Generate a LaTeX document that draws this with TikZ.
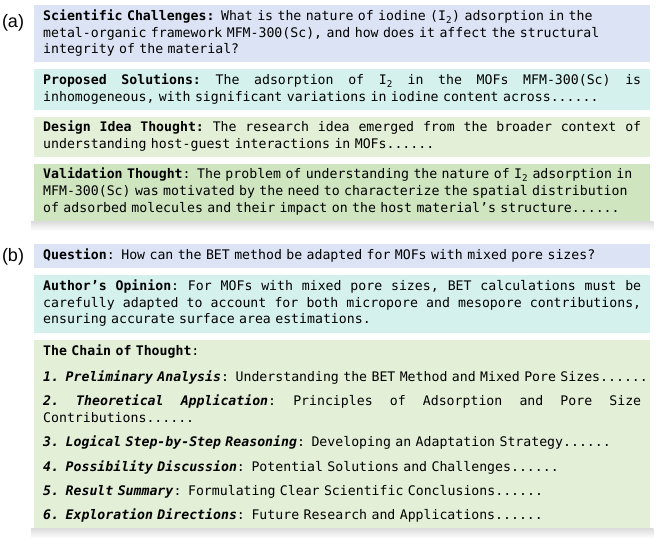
\documentclass[tikz,border=0pt]{standalone}
\usepackage{fontspec}
\setmonofont{DejaVu Sans Mono}
\newfontfamily\panelfont{Liberation Sans}
\usepackage{tikz}
\usetikzlibrary{positioning,calc}
\definecolor{qblue}{HTML}{DCE3F4}
\definecolor{qcyan}{HTML}{D4F1EE}
\definecolor{qlgreen}{HTML}{E3EFD7}
\definecolor{qgreen}{HTML}{CEE5C0}
\newlength{\boxtw}\setlength{\boxtw}{598pt}
% justified line: spaces stretch to the full text width
\newcommand{\jline}[1]{\makebox[\boxtw][s]{\spaceskip=\fontdimen2\font plus 1fil\relax
  \xspaceskip=\spaceskip#1}}
\newcommand{\cotitem}[2]{\textbf{\textit{#1}}: #2}
\tikzstyle{textbox}=[inner xsep=9pt,inner ysep=3.5pt,text width=\boxtw,align=left,
  font=\ttfamily\fontsize{13.2}{16.7}\selectfont,
  execute at begin node=\strut,execute at end node=\strut]
\tikzstyle{panel}=[font=\panelfont\fontsize{18}{20}\selectfont,inner sep=0pt]

\begin{document}
\begin{tikzpicture}[x=1pt,y=1pt]
\useasboundingbox (0,0) rectangle (661,-544);
% (a) the four boxes
\node (challenge) [textbox,fill=qblue,anchor=north west] at (34,-5)
  {\mbox{\textbf{Scientific Challenges:} What is the nature of iodine (I\textsubscript{2}) adsorption in the}\\
   \mbox{metal-organic framework MFM-300(Sc), and how does it affect the structural}\\
   integrity of the material?};
\node (solution) [textbox,fill=qcyan,below=6.5pt of challenge]
  {\jline{\textbf{Proposed Solutions:} The adsorption of I\textsubscript{2} in the MOFs MFM-300(Sc) is}\\
   \mbox{inhomogeneous, with significant variations in iodine content across......}};
\node (design) [textbox,fill=qlgreen,below=6.5pt of solution]
  {\jline{\textbf{Design Idea Thought:} The research idea emerged from the broader context of}\\
   understanding host-guest interactions in MOFs......};
\node (validation) [textbox,fill=qgreen,below=6.5pt of design]
  {\mbox{\textbf{Validation Thought}: The problem of understanding the nature of I\textsubscript{2} adsorption in}\\
   \mbox{MFM-300(Sc) was motivated by the need to characterize the spatial distribution}\\
   \mbox{of adsorbed molecules and their impact on the host material’s structure......}};
\shade[top color=black!14,bottom color=white] ($(validation.south west)+(-3,0)$) rectangle ($(validation.south east)+(3,-10)$);

% (b) question, opinion and chain of thought
\node (question) [textbox,fill=qblue,below=23pt of validation]
  {\mbox{\textbf{Question}: How can the BET method be adapted for MOFs with mixed pore sizes?}};
\node (opinion) [textbox,fill=qcyan,below=7pt of question]
  {\jline{\textbf{Author’s Opinion}: For MOFs with mixed pore sizes, BET calculations must be}\\
   \jline{carefully adapted to account for both micropore and mesopore contributions,}\\
   ensuring accurate surface area estimations.};
\node (chain) [textbox,fill=qlgreen,below=7pt of opinion]
  {\textbf{The Chain of Thought}:\\[10pt]
   \mbox{\cotitem{1. Preliminary Analysis}{Understanding the BET Method and Mixed Pore Sizes......}}\\[7.5pt]
   \jline{\cotitem{2. Theoretical Application}{Principles of Adsorption and Pore Size}}\\
   Contributions......\\[7.5pt]
   \mbox{\cotitem{3. Logical Step-by-Step Reasoning}{Developing an Adaptation Strategy......}}\\[7.5pt]
   \mbox{\cotitem{4. Possibility Discussion}{Potential Solutions and Challenges......}}\\[7.5pt]
   \mbox{\cotitem{5. Result Summary}{Formulating Clear Scientific Conclusions......}}\\[7.5pt]
   \mbox{\cotitem{6. Exploration Directions}{Future Research and Applications......}}};
\shade[top color=black!14,bottom color=white] ($(chain.south west)+(-3,0)$) rectangle ($(chain.south east)+(3,-10)$);

% panel letters
\node (labelA) [panel] at ($(challenge.north west)+(-21,-18)$) {(a)};
\node (labelB) [panel] at ($(question.west)+(-21,-1)$) {(b)};
\end{tikzpicture}
\end{document}
